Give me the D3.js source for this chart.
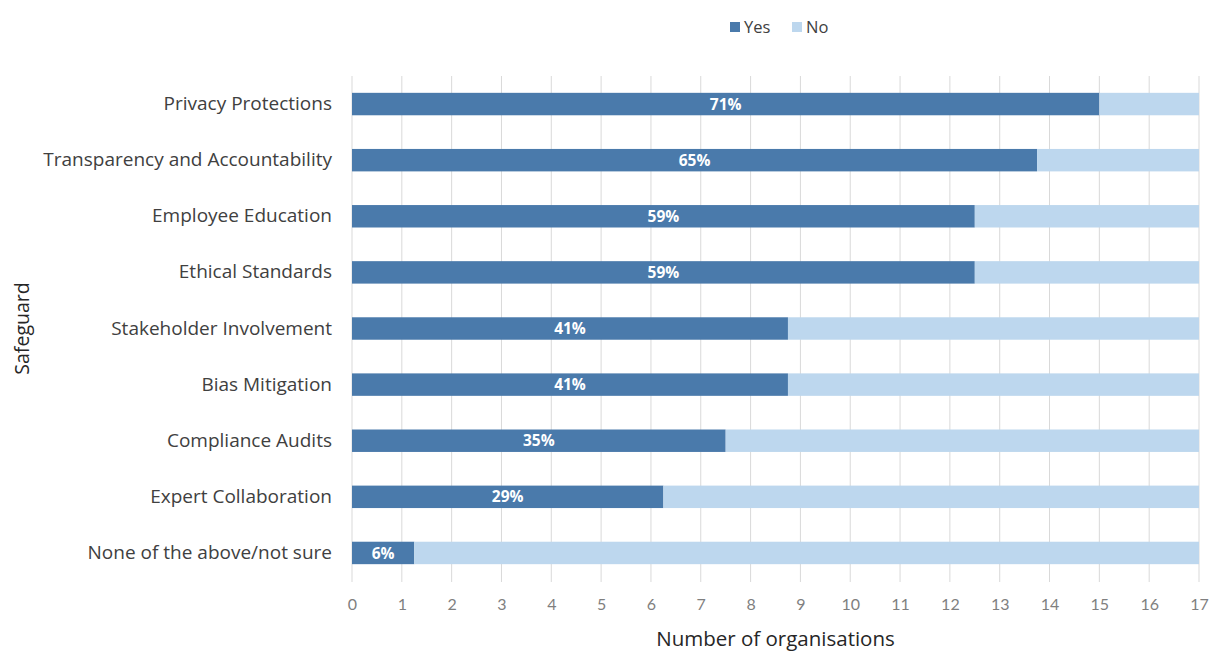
<!DOCTYPE html>
<html>
<head>
<meta charset="utf-8">
<script src="https://cdn.jsdelivr.net/npm/d3@7"></script>
<style>
body { margin: 0; background: #fff; }
text { font-family: "Open Sans", sans-serif; }
</style>
</head>
<body>
<div id="chart"></div>
<script>
var categories = ["Privacy Protections", "Transparency and Accountability", "Employee Education",
    "Ethical Standards", "Stakeholder Involvement", "Bias Mitigation", "Compliance Audits",
    "Expert Collaboration", "None of the above/not sure"];
var yesValues = [15, 13.75, 12.5, 12.5, 8.75, 8.75, 7.5, 6.25, 1.25];
var noValues = [2, 3.25, 4.5, 4.5, 8.25, 8.25, 9.5, 10.75, 15.75];
var pctLabels = ["71%", "65%", "59%", "59%", "41%", "41%", "35%", "29%", "6%"];
var seriesNames = ["Yes", "No"];
var xTicks = d3.range(0, 18);

var width = 1212, height = 654;
var margin = {top: 76, right: 13, bottom: 73, left: 352};
var colors = {Yes: "#4a7aab", No: "#bdd7ee"};

var svg = d3.select("#chart").append("svg")
    .attr("width", width)
    .attr("height", height);

var x = d3.scaleLinear().domain([0, 17]).range([margin.left, width - margin.right]);
var y = d3.scaleBand().domain(categories)
    .range([margin.top, height - margin.bottom])
    .paddingInner(0.6).paddingOuter(0.3);

// gridlines
svg.append("g").selectAll("line")
    .data(xTicks)
    .enter().append("line")
    .attr("x1", function(d){ return x(d); })
    .attr("x2", function(d){ return x(d); })
    .attr("y1", margin.top)
    .attr("y2", height - margin.bottom + 1)
    .attr("stroke", "#d9d9d9")
    .attr("stroke-width", 1);

var rows = categories.map(function(c, i){
    return {cat: c, yes: yesValues[i], no: noValues[i], pct: pctLabels[i]};
});

// yes bars
svg.append("g").selectAll("rect")
    .data(rows)
    .enter().append("rect")
    .attr("x", x(0))
    .attr("y", function(d){ return y(d.cat); })
    .attr("width", function(d){ return x(d.yes) - x(0); })
    .attr("height", y.bandwidth())
    .attr("fill", colors.Yes);

// no bars
svg.append("g").selectAll("rect")
    .data(rows)
    .enter().append("rect")
    .attr("x", function(d){ return x(d.yes); })
    .attr("y", function(d){ return y(d.cat); })
    .attr("width", function(d){ return x(d.yes + d.no) - x(d.yes); })
    .attr("height", y.bandwidth())
    .attr("fill", colors.No);

// percentage labels
svg.append("g").selectAll("text")
    .data(rows)
    .enter().append("text")
    .attr("x", function(d){ return (x(0) + x(d.yes)) / 2; })
    .attr("y", function(d){ return y(d.cat) + y.bandwidth() / 2; })
    .attr("dy", "0.36em")
    .attr("text-anchor", "middle")
    .attr("fill", "#fff")
    .style("font-size", "15.5px")
    .style("font-weight", "bold")
    .text(function(d){ return d.pct; });

// x axis
var xAxis = svg.append("g")
    .attr("transform", "translate(0," + (height - margin.bottom) + ")")
    .call(d3.axisBottom(x).tickValues(xTicks).tickSize(0).tickPadding(18));
xAxis.select(".domain").remove();
xAxis.selectAll("text")
    .attr("fill", "#7f7f7f")
    .style("font-size", "16px")
    .style("font-family", "Lato, sans-serif");

// y axis
var yAxis = svg.append("g")
    .attr("transform", "translate(" + margin.left + ",0)")
    .call(d3.axisLeft(y).tickSize(0).tickPadding(20));
yAxis.select(".domain").remove();
yAxis.selectAll("text")
    .attr("fill", "#404040")
    .style("font-size", "19px")
    .style("font-family", "'Open Sans', sans-serif");

// axis titles
svg.append("text")
    .attr("x", (x(0) + x(17)) / 2)
    .attr("y", 646)
    .attr("text-anchor", "middle")
    .attr("fill", "#262626")
    .style("font-size", "20.5px")
    .text("Number of organisations");

svg.append("text")
    .attr("transform", "translate(22," + ((margin.top + height - margin.bottom) / 2) + ") rotate(-90)")
    .attr("dy", "0.35em")
    .attr("text-anchor", "middle")
    .attr("fill", "#262626")
    .style("font-size", "19.5px")
    .text("Safeguard");

// legend
var legend = svg.append("g").attr("transform", "translate(730,27)");
var item = legend.selectAll("g")
    .data(seriesNames)
    .enter().append("g")
    .attr("transform", function(d, i){ return "translate(" + (i * 62) + ",0)"; });
item.append("rect")
    .attr("x", 0).attr("y", -5)
    .attr("width", 10).attr("height", 10)
    .attr("fill", function(d){ return colors[d]; });
item.append("text")
    .attr("x", 14)
    .attr("dy", "0.35em")
    .attr("fill", "#404040")
    .style("font-size", "16.5px")
    .text(function(d){ return d; });
</script>
</body>
</html>
